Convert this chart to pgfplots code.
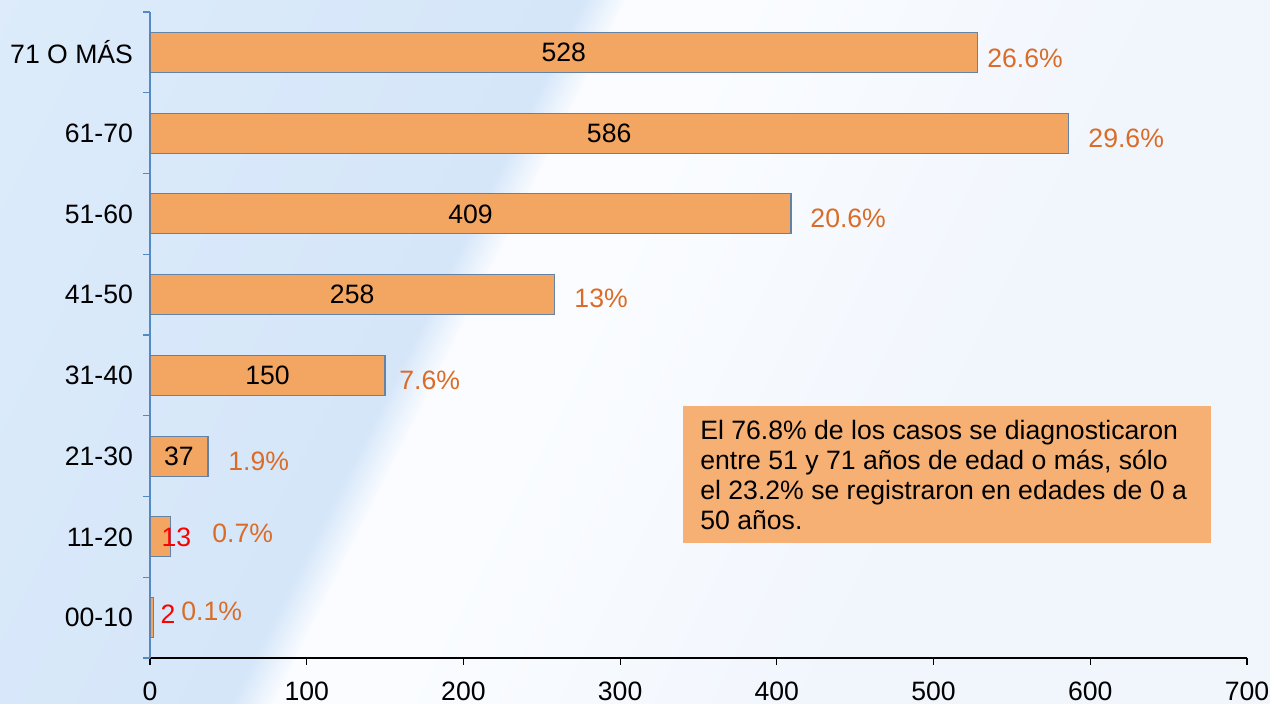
\documentclass[border=0pt]{standalone}
\usepackage{fontspec}
\setmainfont{Liberation Sans}
\usepackage{pgfplots}
\pgfplotsset{compat=1.18}
\definecolor{barfill}{RGB}{243,165,98}
\definecolor{bardraw}{RGB}{100,130,165}
\definecolor{pct}{RGB}{218,108,40}
\definecolor{axblue}{RGB}{84,138,196}
\definecolor{boxfill}{RGB}{246,176,115}
\definecolor{bgA}{RGB}{226,238,251}
\definecolor{bgB}{RGB}{218,234,250}
\definecolor{bgC}{RGB}{213,230,249}
\definecolor{bgW}{RGB}{250,252,255}
\definecolor{bgD}{RGB}{241,246,253}
\pgfdeclarehorizontalshading{bgswoosh}{100bp}{color(0bp)=(bgA); color(33bp)=(bgA); color(41.7bp)=(bgB); color(49.5bp)=(bgC); color(50.3bp)=(bgW); color(52.5bp)=(bgW); color(60.4bp)=(bgD); color(100bp)=(bgD)}
\newcommand{\chartfont}{\fontsize{13.3}{15}\selectfont}
\begin{document}
\begin{tikzpicture}[x=1pt,y=1pt]
\useasboundingbox (0,0) rectangle (635,352);
\fill[bgD] (0,0) rectangle (635,352);
\begin{scope}
\clip (0,0) rectangle (635,352);
\begin{scope}[transform canvas={shift={(217pt,176pt)}, rotate=-26.6}]
\shade[shading=bgswoosh] (-600,-600) rectangle (600,600);
\end{scope}
\end{scope}
\begin{axis}[at={(75pt,23pt)}, anchor=south west, scale only axis,
  width=548.5pt, height=323pt,
  xmin=0, xmax=700, ymin=-0.5, ymax=7.5,
  clip=false,
  axis x line=bottom, axis y line=left,
  x axis line style={-,black,line width=0.6pt},
  y axis line style={-,axblue,line width=0.6pt},
  xtick={0,100,...,700},
  ytick={0,...,7},
  yticklabels={00-10,11-20,21-30,31-40,41-50,51-60,61-70,71 O MÁS},
  minor ytick={-0.5,0.5,...,7.5},
  tick align=outside,
  major tick length=3.5pt, minor tick length=3.5pt,
  major y tick style={draw=none},
  minor y tick style={axblue,line width=0.6pt},
  x tick style={black,line width=0.6pt},
  tick label style={font=\chartfont},
  yticklabel style={xshift=-1.5pt},
  xticklabel style={yshift=-5pt},
  /pgf/number format/assume math mode=true,
]
\addplot[xbar, bar shift=0pt, bar width=20pt, fill=barfill, draw=bardraw, line width=0.6pt]
  coordinates {(2,0) (13,1) (37,2) (150,3) (258,4) (409,5) (586,6) (528,7)};
% values inside bars
\addplot[draw=none, mark=none, nodes near coords, point meta=explicit symbolic,
  every node near coord/.style={font=\chartfont, anchor=center, inner sep=0pt, text=black}]
  table[meta=label] {
x y label
18.5 2 37
75 3 150
129 4 258
204.5 5 409
293 6 586
264 7 528
};
% small values outside (red)
\addplot[draw=none, mark=none, nodes near coords, point meta=explicit symbolic,
  every node near coord/.style={font=\chartfont, anchor=center, inner sep=0pt, text=red}]
  table[meta=label] {
x y label
11.5 0.04 2
16.9 1.0 13
};
% percentages
\addplot[draw=none, mark=none, nodes near coords, point meta=explicit symbolic,
  every node near coord/.style={font=\chartfont, anchor=west, inner sep=0pt, text=pct}]
  table[meta=label] {
x y label
19.8 0.08 0.1\%
39.6 1.04 0.7\%
49.8 1.94 1.9\%
158.9 2.94 7.6\%
270.6 3.95 13\%
421.2 4.94 20.6\%
598.6 5.94 29.6\%
534.1 6.93 26.6\%
};
\fill[boxfill] (axis cs:340.1,2.62) rectangle (axis cs:677.1,0.924);
\node[anchor=north west, inner sep=0pt, xshift=8.5pt, yshift=-7pt, align=left, font=\chartfont]
  at (axis cs:340.1,2.62)
  {El 76.8\% de los casos se diagnosticaron\\entre 51 y 71 años de edad o más, sólo\\el 23.2\% se registraron en edades de 0 a\\50 años.};
\end{axis}
\end{tikzpicture}
\end{document}
